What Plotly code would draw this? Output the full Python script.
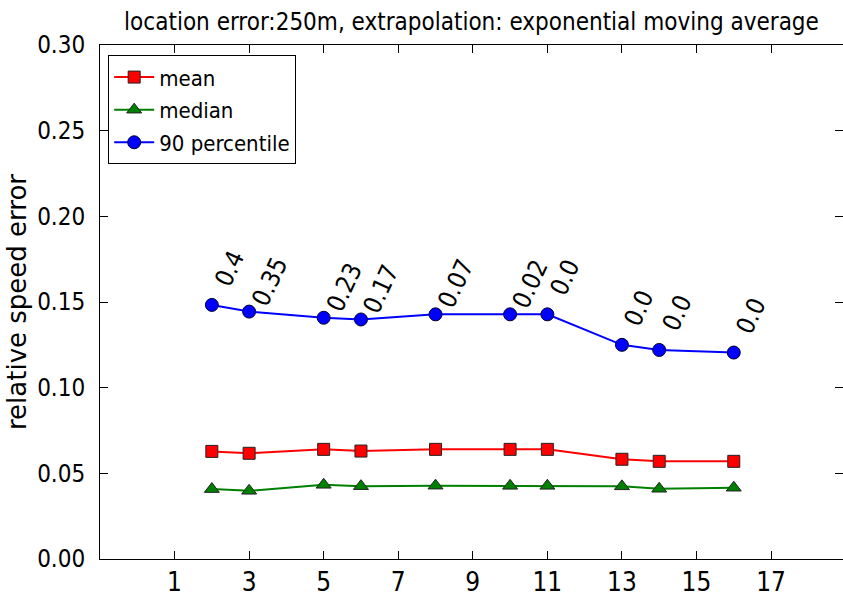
import plotly.graph_objects as go

x_vals = [2, 3, 5, 6, 8, 10, 11, 13, 14, 16]
mean_vals = [0.0628, 0.0617, 0.0640, 0.0630, 0.0640, 0.0640, 0.0640, 0.0582, 0.0570, 0.0570]
median_vals = [0.0408, 0.0398, 0.0433, 0.0425, 0.0428, 0.0427, 0.0427, 0.0424, 0.0410, 0.0416]
p90_vals = [0.1483, 0.1444, 0.1408, 0.1398, 0.1428, 0.1428, 0.1428, 0.1250, 0.1220, 0.1205]
p90_labels = ["0.4", "0.35", "0.23", "0.17", "0.07", "0.02", "0.0", "0.0", "0.0", "0.0"]
x_ticks = [1, 3, 5, 7, 9, 11, 13, 15, 17]
y_ticks = [0.0, 0.05, 0.10, 0.15, 0.20, 0.25, 0.30]

COND = "DejaVu Sans Condensed, Liberation Sans Narrow, DejaVu Sans"

fig = go.Figure()
fig.add_trace(go.Scatter(
    x=x_vals, y=mean_vals, name="mean", mode="lines+markers", legendgroup="a",
    line=dict(color="#ff0000", width=2),
    marker=dict(symbol="square", size=12, color="#ff0000", line=dict(color="#222", width=1))))
fig.add_trace(go.Scatter(
    x=x_vals, y=median_vals, name="median", mode="lines+markers", legendgroup="b",
    line=dict(color="#008000", width=2),
    marker=dict(symbol="triangle-up", size=13, color="#008000", line=dict(color="#222", width=1))))
fig.add_trace(go.Scatter(
    x=x_vals, y=p90_vals, name="90 percentile", mode="lines+markers", legendgroup="c",
    line=dict(color="#0000ff", width=2),
    marker=dict(symbol="circle", size=13, color="#0000ff", line=dict(color="#000033", width=1))))

for xv, yv, lab in zip(x_vals, p90_vals, p90_labels):
    fig.add_annotation(x=xv, y=yv, text=lab, showarrow=False, textangle=-65,
                       xanchor="left", yanchor="top", yshift=62, xshift=-6,
                       font=dict(family=COND, size=25, color="black"))

fig.update_layout(
    width=843, height=596,
    margin=dict(l=100, r=0, t=45, b=37),
    paper_bgcolor="white", plot_bgcolor="white",
    title=dict(text="location error:250m, extrapolation: exponential moving average",
               xref="paper", x=0.5, xanchor="center", y=0.963, yanchor="middle",
               font=dict(family=COND, size=24, color="black")),
    showlegend=True,
    legend=dict(x=0.011, y=0.98, xanchor="left", yanchor="top",
                bordercolor="black", borderwidth=1, bgcolor="white",
                font=dict(family=COND, size=22, color="black"),
                tracegroupgap=1, itemwidth=40),
    font=dict(family=COND, color="black"),
)
fig.update_xaxes(range=[-1, 18.93], tickvals=x_ticks, ticktext=[str(t) for t in x_ticks],
                 showline=True, linecolor="black", linewidth=1, mirror="ticks",
                 ticks="inside", ticklen=8, tickcolor="black", showgrid=False, zeroline=False,
                 tickfont=dict(family=COND, size=26, color="black"))
fig.update_yaxes(range=[0, 0.30], tickvals=y_ticks, ticktext=["%.2f" % t for t in y_ticks],
                 showline=True, linecolor="black", linewidth=1, mirror="ticks",
                 ticks="inside", ticklen=8, tickcolor="black", showgrid=False, zeroline=False,
                 ticklabelstandoff=9,
                 tickfont=dict(family=COND, size=24, color="black"),
                 title=dict(text="relative speed error", standoff=3,
                            font=dict(family="DejaVu Sans", size=26, color="black")))

fig.write_html("out.html")
